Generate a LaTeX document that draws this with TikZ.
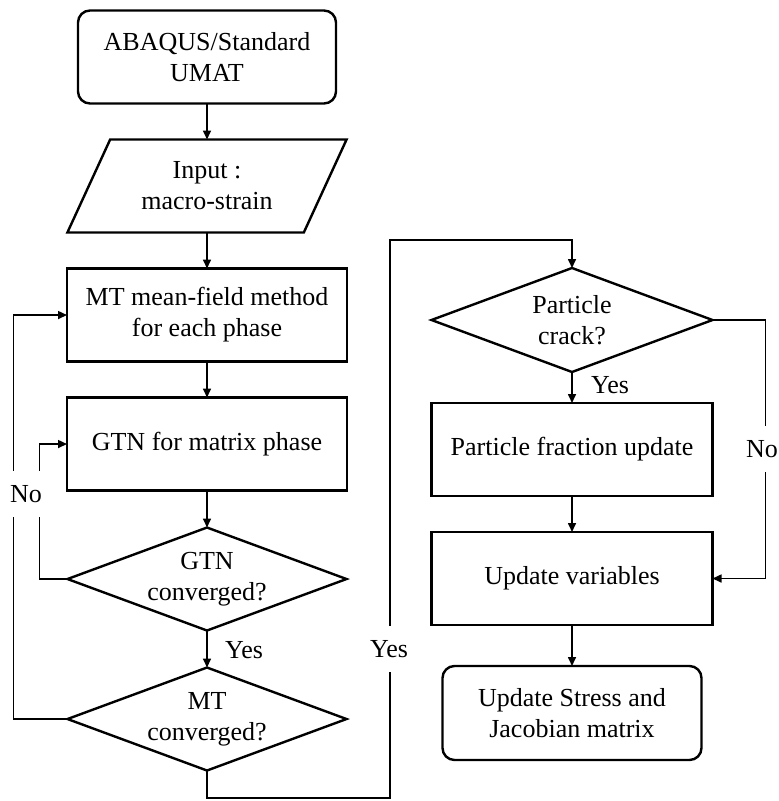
\documentclass[tikz,border=0pt]{standalone}
\usepackage{fontspec}
\setmainfont{Liberation Serif}
\usetikzlibrary{arrows.meta,positioning,shapes.geometric}
\tikzset{
  procbox/.style={draw,line width=2.4pt,minimum width=280pt,minimum height=93pt,inner sep=0pt,outer sep=0pt,align=center,font=\fontsize{26}{31}\selectfont},
  termbox/.style={procbox,rounded corners=12pt,minimum width=258pt},
  ionode/.style={procbox,trapezium,trapezium left angle=59,trapezium right angle=121,trapezium stretches=true},
  decnode/.style={draw,diamond,aspect=2.7,line width=2.4pt,minimum width=279pt,minimum height=103pt,inner sep=0pt,outer sep=0pt,align=center,font=\fontsize{26}{31}\selectfont},
  flowarrow/.style={-{Triangle[length=9pt,width=8pt]},line width=1.6pt},
  flowlabel/.style={font=\fontsize{26}{31}\selectfont,inner sep=0.5pt},
  cutlabel/.style={flowlabel,fill=white,minimum height=46pt},
}

\begin{document}
\begin{tikzpicture}[x=1pt,y=-1pt]
    \useasboundingbox (0,0) rectangle (779,801);
    % left column
    \node[termbox] (start) at (207,57) {ABAQUS/Standard\\UMAT};
    \node[ionode,below=36pt of start] (input) {Input :\\macro-strain};
    \node[procbox,below=36pt of input] (mtbox) {MT mean-field method\\for each phase};
    \node[procbox,below=36pt of mtbox] (gtnbox) {GTN for matrix phase};
    \node[decnode,below=37pt of gtnbox] (gtnq) {GTN\\converged?};
    \node[decnode,below=37pt of gtnq] (mtq) {MT\\converged?};
    % right column
    \node[decnode,minimum width=281pt,minimum height=104pt] (crack) at (572,320) {Particle\\crack?};
    \node[procbox,minimum width=281pt,below=31pt of crack] (fracbox) {Particle fraction update};
    \node[procbox,minimum width=281pt,below=36pt of fracbox] (updbox) {Update variables};
    \node[termbox,minimum width=259pt,minimum height=94pt,below=41pt of updbox] (final) {Update Stress and\\Jacobian matrix};

    \draw[flowarrow] (start) -- (input);
    \draw[flowarrow] (input) -- (mtbox);
    \draw[flowarrow] (mtbox) -- (gtnbox);
    \draw[flowarrow] (gtnbox) -- (gtnq);
    \draw[flowarrow] (gtnq) -- (mtq);
    \draw[flowarrow] (gtnq.west) -- ++(-28,0) |- (gtnbox.west);
    \draw[flowarrow] (mtq.west) -- ++(-54,0) |- (mtbox.west);
    \coordinate (lpb) at (390,798);
    \coordinate (lpt) at (390,240);
    \draw[flowarrow] (mtq.south) |- (lpb) -- (lpt) -| (crack.north);
    \draw[flowarrow] (crack) -- (fracbox);
    \draw[flowarrow] (fracbox) -- (updbox);
    \draw[flowarrow] (updbox) -- (final);
    \draw[flowarrow] (crack.east) -- ++(53,0) |- (updbox.east);

    % labels
    \node[flowlabel] (yesa) at (244,650) {Yes};
    \node[flowlabel] (yesc) at (610,385) {Yes};
    \node[cutlabel] (noa) at (26,494) {No};
    \node[cutlabel] (yesb) at (389,649) {Yes};
    \node[cutlabel] (nob) at (762,449) {No};
\end{tikzpicture}
\end{document}
